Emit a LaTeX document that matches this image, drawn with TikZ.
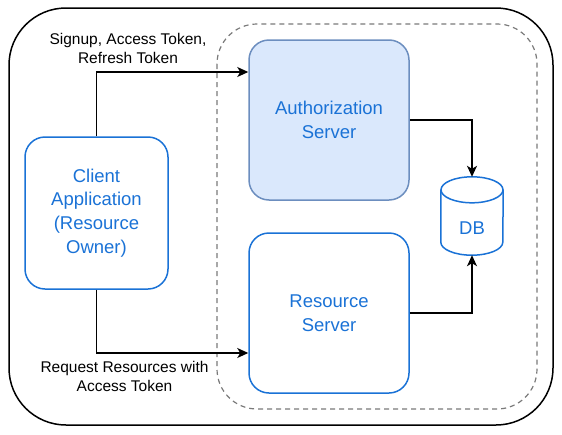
\documentclass[tikz,border=0pt]{standalone}
\usepackage{fontspec}
\setmainfont{Liberation Sans}
\usepackage{tikz}
\usetikzlibrary{arrows.meta}
\definecolor{ServerBlue}{HTML}{1A72D6}
\definecolor{AuthFill}{HTML}{DAE8FC}
\definecolor{AuthStroke}{HTML}{6C8EBF}
\definecolor{Gray50}{HTML}{7A7A7A}

\begin{document}
\begin{tikzpicture}[x=1pt, y=-1pt,
  box/.style={draw=ServerBlue, line width=1.5pt, rounded corners=20pt, align=center,
    text=ServerBlue, inner sep=0pt, font=\fontsize{18.5}{23.7}\selectfont},
  edgelabel/.style={align=center, inner sep=0pt, font=\fontsize{15.5}{19}\selectfont},
  link/.style={line width=1.4pt, -{Stealth[length=11pt, width=10pt, inset=3pt]}}]

\useasboundingbox (0,0) rectangle (562,434);

% ============================================================
% Frames: outer system boundary and dashed server zone
% ============================================================
\draw[black, line width=1.5pt, rounded corners=57pt] (9,8) rectangle (553,425);
\draw[Gray50, line width=1.2pt, dash pattern=on 5pt off 4pt, rounded corners=40pt] (217,24) rectangle (537,409);

% ============================================================
% Boxes
% ============================================================
\node[box, minimum width=143pt, minimum height=152pt] (client) at (96.5,213) {Client\\Application\\(Resource\\Owner)};
\node[box, fill=AuthFill, draw=AuthStroke, minimum width=160pt, minimum height=160pt] (auth) at (329,120) {Authorization\\Server};
\node[box, minimum width=160pt, minimum height=160pt] (res) at (329,313) {Resource\\Server};

% DB cylinder: text pushed down below the top cap
\node[text=ServerBlue, inner sep=0pt, minimum width=62pt, text height=57.6pt, text depth=20.4pt,
  font=\fontsize{18.5}{23.7}\selectfont] (db) at (472,216) {DB};
\draw[ServerBlue, line width=1.5pt] ([yshift=-13pt]db.north) ellipse [x radius=31pt, y radius=13pt];
\draw[ServerBlue, line width=1.5pt] ([yshift=-13pt]db.north west) -- ([yshift=13pt]db.south west)
  arc[start angle=180, end angle=360, x radius=31pt, y radius=13pt] -- ([yshift=-13pt]db.north east);

% ============================================================
% Connectors and their labels
% ============================================================
\draw[link] (client.north) |- ([yshift=48pt]auth.west);
\draw[link] (client.south) |- ([yshift=-40pt]res.west);
\draw[link] (auth.east) -| (db.north);
\draw[link] (res.east) -| (db.south);

\node[edgelabel] (signupLbl) at (128,48.5) {Signup, Access Token,\\Refresh Token};
\node[edgelabel] (requestLbl) at (124.5,376.5) {Request Resources with\\Access Token};

\end{tikzpicture}
\end{document}
